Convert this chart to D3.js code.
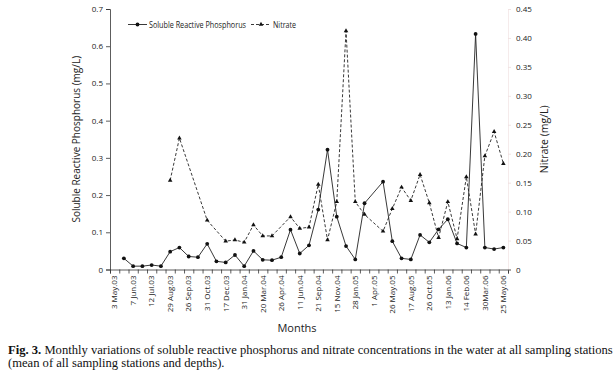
<!DOCTYPE html>
<html>
<head>
<meta charset="utf-8">
<script src="https://cdn.jsdelivr.net/npm/d3@7"></script>
<style>
  body { margin: 0; background: #fff; }
  svg { display: block; }
  .axis text { font-family: "Open Sans", sans-serif; font-size: 8px; fill: #222; }
  .axis path, .axis line { stroke: #333; stroke-width: 0.8; }
</style>
</head>
<body>
<div id="graph"></div>
<script>
(function() {

  // x tick labels (every other sampling date is labelled)
  const tickLabels = ["3 May.03", "7 Jun.03", "12 Jul.03", "29 Aug.03", "26 Sep.03", "31 Oct.03",
    "17 Dec.03", "31 Jan.04", "20 Mar.04", "26 Apr.04", "11 Jun.04", "21 Sep.04", "15 Nov.04",
    "28 Jan.05", "1 Apr.05", "26 May.05", "17 Aug.05", "26 Oct.05", "13 Jan.06", "14 Feb.06",
    "30Mar.06", "25 May.06"]

  // soluble reactive phosphorus, mg/L (left axis), one per sampling date
  const srp = [null, 0.030, 0.009, 0.009, 0.012, 0.009, 0.048, 0.059, 0.035, 0.033, 0.069,
    0.022, 0.019, 0.039, 0.009, 0.050, 0.026, 0.025, 0.033, 0.107, 0.043, 0.065, 0.161,
    0.322, 0.142, 0.063, 0.027, 0.178, null, 0.236, 0.076, 0.030, 0.027, 0.093, 0.073,
    0.108, 0.135, 0.070, 0.059, 0.633, 0.059, 0.055, 0.059]

  // nitrate, mg/L (right axis)
  const nitrate = [null, null, null, null, null, null, 0.154, 0.227, null, null, 0.085,
    null, 0.049, 0.051, 0.047, 0.077, 0.058, 0.058, null, 0.091, 0.071, 0.073, 0.147,
    0.051, 0.117, 0.412, 0.117, 0.095, null, 0.066, 0.105, 0.142, 0.119, 0.164, 0.115,
    0.055, 0.117, 0.053, 0.160, 0.061, 0.196, 0.238, 0.183]

  const leftTicks = [0, 0.1, 0.2, 0.3, 0.4, 0.5, 0.6, 0.7]
  const rightTicks = [0, 0.05, 0.10, 0.15, 0.20, 0.25, 0.30, 0.35, 0.40, 0.45]

  const W = 614, H = 383
  const left = 110, right = 508, top = 9, bottom = 269.5

  const svg = d3.select("#graph").append("svg")
    .attr("width", W).attr("height", H)

  const n = srp.length
  const x = d3.scaleBand().domain(d3.range(n)).range([left, right])
  const xEdge = d3.scaleLinear().domain([0, n]).range([left, right])
  const cx = i => x(i) + x.bandwidth() / 2

  const yL = d3.scaleLinear().domain([0, 0.7]).range([bottom, top])
  const yR = d3.scaleLinear().domain([0, 0.45]).range([bottom, top])

  // x axis: tick marks on category edges
  svg.append("g").attr("class", "axis")
    .attr("transform", "translate(0," + bottom + ")")
    .call(d3.axisBottom(xEdge).tickValues(d3.range(n + 1)).tickSize(4).tickFormat(""))

  // x labels, rotated
  svg.append("g").attr("class", "axis")
    .attr("transform", "translate(0," + bottom + ")")
    .call(d3.axisBottom(x).tickValues(d3.range(0, n, 2)).tickSize(0)
      .tickFormat(i => tickLabels[i / 2]))
    .call(g => g.select(".domain").remove())
    .selectAll("text")
      .attr("transform", "rotate(-90)")
      .attr("x", -6).attr("y", 0).attr("dy", "0.35em")
      .style("text-anchor", "end")

  // left axis
  svg.append("g").attr("class", "axis")
    .attr("transform", "translate(" + left + ",0)")
    .call(d3.axisLeft(yL).tickValues(leftTicks).tickSize(4).tickPadding(3)
      .tickFormat(d => d === 0 ? "0" : d3.format(".1f")(d)))

  // right axis (barely visible line in the original)
  const ra = svg.append("g").attr("class", "axis")
    .attr("transform", "translate(" + right + ",0)")
    .call(d3.axisRight(yR).tickValues(rightTicks).tickSize(3).tickPadding(5)
      .tickFormat(d => d === 0 ? "0" : d3.format(".2f")(d)))
  ra.select(".domain").style("stroke", "#f3e6e6")
  ra.selectAll(".tick line").style("stroke", "#efdede")
  ra.select(".tick line").style("stroke", "#333")

  // nitrate (dashed, triangles)
  const nitPts = nitrate.map((v, i) => ({ i, v })).filter(d => d.v !== null)
  svg.append("path")
    .datum(nitPts)
    .attr("fill", "none")
    .attr("stroke", "#222")
    .attr("stroke-width", 0.9)
    .attr("stroke-dasharray", "3,2")
    .attr("d", d3.line().x(d => cx(d.i)).y(d => yR(d.v)))

  const tri = d3.symbol().type(d3.symbolTriangle).size(9)
  svg.selectAll(".tri").data(nitPts).enter().append("path")
    .attr("class", "tri")
    .attr("transform", d => "translate(" + cx(d.i) + "," + yR(d.v) + ")")
    .attr("d", tri)
    .attr("fill", "#111")

  // SRP (solid, circles)
  const srpPts = srp.map((v, i) => ({ i, v })).filter(d => d.v !== null)
  svg.append("path")
    .datum(srpPts)
    .attr("fill", "none")
    .attr("stroke", "#222")
    .attr("stroke-width", 0.9)
    .attr("d", d3.line().x(d => cx(d.i)).y(d => yL(d.v)))

  svg.selectAll(".dot").data(srpPts).enter().append("circle")
    .attr("class", "dot")
    .attr("cx", d => cx(d.i))
    .attr("cy", d => yL(d.v))
    .attr("r", 1.9)
    .attr("fill", "#111")

  // axis titles
  svg.append("text")
    .attr("transform", "translate(80," + (top + bottom) / 2 + ") rotate(-90)")
    .attr("text-anchor", "middle")
    .style("font-family", "'Open Sans', sans-serif").style("font-size", "10px").style("fill", "#222")
    .text("Soluble Reactive Phosphorus (mg/L)")

  svg.append("text")
    .attr("transform", "translate(548," + (top + bottom) / 2 + ") rotate(-90)")
    .attr("text-anchor", "middle")
    .style("font-family", "'Open Sans', sans-serif").style("font-size", "10.5px").style("fill", "#222")
    .text("Nitrate (mg/L)")

  svg.append("text")
    .attr("x", 297).attr("y", 332)
    .attr("text-anchor", "middle")
    .style("font-family", "'Open Sans', sans-serif").style("font-size", "11px").style("fill", "#222")
    .text("Months")

  // legend (condensed face squeezed to the original widths)
  const lg = svg.append("g")
    .style("font-family", "'Open Sans', sans-serif")
    .style("font-size", "9px").style("fill", "#222")
  const ly = 24.5
  lg.append("line").attr("x1", 128).attr("x2", 147).attr("y1", ly).attr("y2", ly)
    .attr("stroke", "#222").attr("stroke-width", 0.9)
  lg.append("circle").attr("cx", 137.5).attr("cy", ly).attr("r", 1.9).attr("fill", "#111")
  lg.append("text").attr("x", 149).attr("y", ly).attr("dy", "0.35em")
    .attr("textLength", 97).attr("lengthAdjust", "spacingAndGlyphs")
    .text("Soluble Reactive Phosphorus")
  lg.append("line").attr("x1", 251).attr("x2", 271).attr("y1", ly).attr("y2", ly)
    .attr("stroke", "#222").attr("stroke-width", 0.9).attr("stroke-dasharray", "3,2")
  lg.append("path").attr("transform", "translate(261," + ly + ")").attr("d", tri).attr("fill", "#111")
  lg.append("text").attr("x", 273).attr("y", ly).attr("dy", "0.35em")
    .attr("textLength", 23).attr("lengthAdjust", "spacingAndGlyphs")
    .text("Nitrate")

  // caption
  const cap = svg.append("text")
    .style("font-family", "'Liberation Serif', 'Times New Roman', serif")
    .style("font-size", "12.6px").style("fill", "#111")
  const l1 = cap.append("tspan").attr("x", 8).attr("y", 354)
  l1.append("tspan").style("font-weight", "bold").text("Fig. 3.")
  l1.append("tspan").text(" Monthly variations of soluble reactive phosphorus and nitrate concentrations in the water at all sampling stations")
  cap.append("tspan").attr("x", 8).attr("y", 367).text("(mean of all sampling stations and depths).")

})();
</script>
</body>
</html>
